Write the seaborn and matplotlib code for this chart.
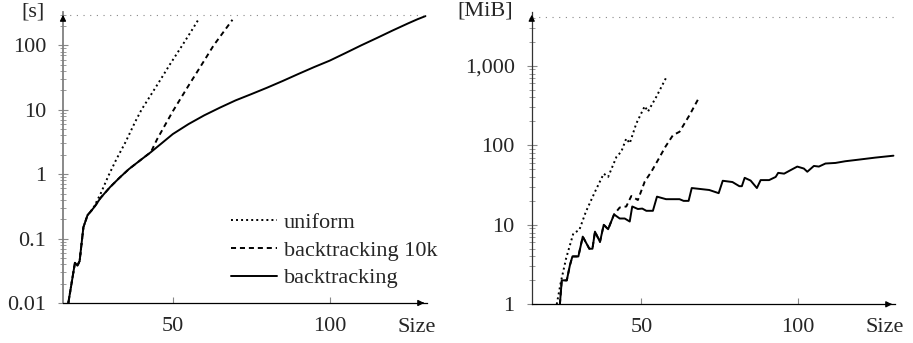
import numpy as np
import pandas as pd
import matplotlib
matplotlib.use("Agg")
import matplotlib.pyplot as plt
import seaborn as sns
from matplotlib.ticker import FixedLocator, LogLocator, NullFormatter

# ---------------- data ----------------
# Left panel: run time [s]
time_size_bt = [16.7, 18.8, 19.6, 20.3, 21.5, 22.8, 24, 25, 27, 30, 33, 36, 40, 43, 46, 50,
                55, 60, 65, 70, 75, 80, 85, 90, 95, 100, 105, 110, 115, 120, 125, 128, 130.5]
time_bt = [0.01, 0.042, 0.038, 0.045, 0.15, 0.23, 0.27, 0.31, 0.43, 0.63, 0.88, 1.2, 1.7,
           2.2, 2.9, 4.2, 6.0, 8.2, 10.8, 14, 17.5, 22, 28, 36, 46, 58, 76, 100, 130, 170,
           220, 255, 285]

time_size_bt10k = [16.7, 18.8, 19.6, 20.3, 21.5, 22.8, 24, 25, 27, 30, 33, 36, 40, 43,
                   45, 50, 55, 60, 63, 66, 69]
time_bt10k = [0.01, 0.042, 0.038, 0.045, 0.15, 0.23, 0.27, 0.31, 0.43, 0.63, 0.88, 1.2,
              1.7, 2.2, 3.5, 9.5, 23.7, 58, 100, 158, 250]

time_size_uni = [16.7, 18.8, 19.6, 20.3, 21.5, 22.8, 24, 25, 27, 29.5, 32, 35, 38, 40, 43,
                 46, 49, 53, 56, 58]
time_uni = [0.01, 0.042, 0.038, 0.045, 0.15, 0.23, 0.27, 0.32, 0.5, 0.95, 1.7, 3.2, 6.5,
            10, 17, 29, 50, 100, 170, 245]

# Right panel: memory [MiB]
mem_size_bt = [24.0, 24.6, 26.2, 27.2, 28, 29.9, 31.3, 33.4, 34.4, 35.2, 36.8, 38, 39.4,
               41.3, 43.1, 44.7, 46.3, 47.1, 48.9, 50.3, 51.6, 53.7, 55, 57.9, 62.2, 63.5,
               65.1, 66.1, 71.7, 74.7, 76, 79.1, 81.3, 82.1, 83, 84.9, 86.9, 88.1, 90.8,
               92.9, 93.7, 95.6, 98.2, 99.8, 101.9, 103, 105.1, 106.7, 108.8, 112, 115.1,
               119.4, 124.7, 130.5]
mem_bt = [1, 2, 2, 3.1, 4, 4, 7.1, 5, 5, 8.2, 6.1, 10, 8.8, 13.5, 12, 12, 11, 17, 15.8, 16,
          15, 15, 22.6, 21, 21, 20, 20, 29, 27.4, 25, 35.8, 34.5, 30.6, 30.6, 39, 36, 29,
          36.5, 36.5, 40, 45, 44, 50, 54, 51, 46.5, 55, 54, 59, 60, 63, 66, 70, 74]

mem_size_bt10k = [24.0, 24.6, 26.2, 27.2, 28, 29.9, 31.3, 33.4, 34.4, 35.2, 36.8, 38, 39.4,
                  41.3, 43.1, 45.2, 46.8, 48.9, 51.1, 53.2, 55.3, 57.7, 60.1, 62.2, 65.4,
                  68.3]
mem_bt10k = [1, 2, 2, 3.1, 4, 4, 7.1, 5, 5, 8.2, 6.1, 10, 8.8, 13.5, 16.5, 17, 23, 20.5,
             35, 46.5, 65, 96, 134, 148, 240, 390]

mem_size_uni = [23, 24.3, 26, 28.3, 30.2, 32.3, 35.2, 38, 39.4, 42.1, 43.6, 45.2, 46.3,
                48.4, 51.1, 52.1, 54.8, 57.9]
mem_uni = [1, 1.9, 3.8, 7.8, 8.6, 14.6, 26, 44, 40, 72, 83, 122, 106, 188, 311, 265, 408,
           706]

series_names = ["uniform", "backtracking 10k", "backtracking"]
time_limit = 300
mem_limit = 4096

left_yticks = [0.01, 0.1, 1, 10, 100]
left_ylabels = ["0.01", "0.1", "1", "10", "100"]
right_yticks = [1, 10, 100, 1000]
right_ylabels = ["1", "10", "100", "1,000"]
xticks = [50, 100]
xlabels = ["50", "100"]

# ---------------- style ----------------
sns.set_theme(style="white")
plt.rcParams["font.family"] = ["Liberation Serif", "DejaVu Serif"]
FS = 16

W, H = 913, 343
fig = plt.figure(figsize=(W / 100, H / 100), dpi=100)

def px_axes(x0, x1, ytop, ybot):
    return fig.add_axes([x0 / W, 1 - ybot / H, (x1 - x0) / W, (ybot - ytop) / H])

ax1 = px_axes(63, 427, 12, 303)
ax2 = px_axes(531.7, 895, 12, 304.3)

styles = {
    "uniform": dict(linestyle=(0, (1, 1.6)), lw=1.4),
    "backtracking 10k": dict(linestyle=(0, (2.6, 2.0)), lw=1.4),
    "backtracking": dict(linestyle="-", lw=1.4),
}

def draw(ax, data):
    for name, (xs, ys) in zip(series_names, data):
        df = pd.DataFrame({"Size": xs, "val": ys})
        sns.lineplot(data=df, x="Size", y="val", ax=ax, color="black",
                     label=name, estimator=None, **styles[name])

draw(ax1, [(time_size_uni, time_uni), (time_size_bt10k, time_bt10k),
           (time_size_bt, time_bt)])
draw(ax2, [(mem_size_uni, mem_uni), (mem_size_bt10k, mem_bt10k),
           (mem_size_bt, mem_bt)])

def style_axes(ax, ylim, yticks, ylabels, limit, spine_color, spine_lw):
    ax.set_yscale("log")
    ax.set_xlim(15, 131)
    ax.set_ylim(*ylim)
    ax.axhline(limit, color="#888888", lw=0.8, linestyle=(0, (1, 5)))
    ax.yaxis.set_major_locator(FixedLocator(yticks))
    ax.set_yticklabels(ylabels)
    ax.yaxis.set_minor_locator(LogLocator(base=10, subs=range(2, 10), numticks=20))
    ax.yaxis.set_minor_formatter(NullFormatter())
    ax.xaxis.set_major_locator(FixedLocator(xticks))
    ax.set_xticklabels(xlabels)
    ax.set_xlabel("")
    ax.set_ylabel("")
    for s in ["top", "right"]:
        ax.spines[s].set_visible(False)
    ax.spines["left"].set_color(spine_color)
    ax.spines["left"].set_linewidth(spine_lw)
    ax.spines["bottom"].set_color("black")
    ax.spines["bottom"].set_linewidth(0.9)
    ax.tick_params(axis="y", which="major", direction="inout", length=6.5, width=0.8,
                   color="#888888", labelsize=FS, pad=9, left=True)
    ax.tick_params(axis="y", which="minor", direction="inout", length=4.5, width=0.7,
                   color="#999999", left=True)
    ax.tick_params(axis="x", which="major", direction="in", length=4.5, width=0.8,
                   color="#888888", labelsize=FS, pad=10, bottom=True)
    ax.set_facecolor("none")
    # arrow heads
    ax.annotate("", xy=(1.0, 0), xytext=(0.98, 0), xycoords="axes fraction",
                arrowprops=dict(arrowstyle="-|>", color="black", lw=0.9,
                                mutation_scale=9), annotation_clip=False)
    ax.annotate("", xy=(0, 1.0), xytext=(0, 0.97), xycoords="axes fraction",
                arrowprops=dict(arrowstyle="-|>", color="black", lw=0.9,
                                mutation_scale=9), annotation_clip=False)

style_axes(ax1, (0.01, 330), left_yticks, left_ylabels, time_limit, "#808080", 1.3)
style_axes(ax2, (1, 4750), right_yticks, right_ylabels, mem_limit, "#333333", 0.9)

ax1.legend(loc="lower left", bbox_to_anchor=(0.462, 0.05), frameon=False,
           handlelength=2.05, handletextpad=0.33, labelspacing=0.33, borderpad=0,
           borderaxespad=0, fontsize=FS)
ax2.get_legend().remove()

fig.text(45 / W, 1 - 12.5 / H, "[s]", ha="right", va="center", fontsize=FS)
fig.text(513 / W, 1 - 11 / H, "[MiB]", ha="right", va="center", fontsize=FS)
fig.text(417 / W, 1 - 327 / H, "Size", ha="center", va="center", fontsize=FS)
fig.text(885 / W, 1 - 327 / H, "Size", ha="center", va="center", fontsize=FS)

fig.savefig("out.png", dpi=100)
